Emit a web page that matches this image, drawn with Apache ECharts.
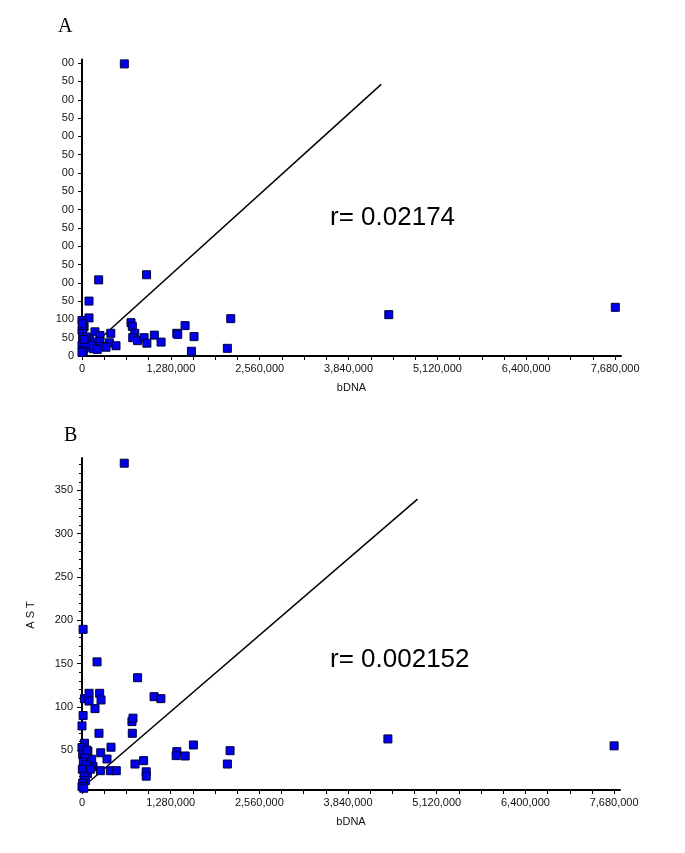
<!DOCTYPE html>
<html>
<head>
<meta charset="utf-8">
<script src="https://cdn.jsdelivr.net/npm/echarts@6/dist/echarts.min.js"></script>
<style>
html,body{margin:0;padding:0;background:#fff;}
#chart{width:685px;height:853px;}
</style>
</head>
<body>
<div id="chart"></div>
<script>
// ---------- data ----------
const xTickLabels = [0, 1280000, 2560000, 3840000, 5120000, 6400000, 7680000];
const yTickLabelsA = [0, 50, 100, 150, 200, 250, 300, 350, 400, 450, 500, 550, 600, 650, 700, 750, 800];
const yTickLabelsB = [50, 100, 150, 200, 250, 300, 350];

// Panel A (y-axis title clipped in the original)
const bdnaA = [610000, 240000, 930000, 101000, 101000, 0, 30000, 706000, 725000, 760000,
  731000, 800000, 894000, 935000, 1042000, 1139000, 1365000, 1379000, 1485000, 1614000,
  1576000, 2094000, 2143000, 4420000, 7683000, 187000, 259000, 415000, 105000, 10000,
  163000, 259000, 394000, 490000, 0, 20000, 85000, 163000, 307000, 346000,
  0, 0, 10000, 5000, 60000, 130000, 220000, 50000, 30000];
const valA = [798, 208, 222, 150, 104, 97, 80, 91, 81, 62,
  50, 42, 50, 35, 57, 38, 62, 59, 83, 53,
  13, 21, 102, 113, 133, 66, 56, 62, 47, 38,
  38, 40, 36, 28, 29, 15, 24, 20, 26, 24,
  10, 70, 61, 88, 52, 30, 18, 35, 45];

// Panel B: AST
const bdnaB = [610000, 16000, 217000, 802000, 35000, 102000, 102000, 255000, 275000, 188000,
  1040000, 1139000, 16000, 0, 245000, 721000, 736000, 726000, 35000, 0,
  419000, 85000, 270000, 361000, 889000, 765000, 927000, 927000, 140000, 159000,
  265000, 409000, 495000, 80000, 1369000, 1359000, 1489000, 1608000, 2137000, 2098000,
  4415000, 7680000, 10000, 40000, 20000, 60000, 5000, 30000, 50000, 10000,
  0, 25000, 120000, 70000];
const astB = [381.5, 189.6, 152, 133.7, 109.5, 115.7, 106.8, 115.7, 108, 98,
  111.8, 109.5, 90, 78, 69.5, 83, 87, 69.5, 58, 53,
  53.4, 49, 47, 39.8, 37.9, 34, 25, 20, 39.5, 31,
  26.3, 26.3, 26.3, 23, 48.3, 43.7, 43.3, 56, 49.4, 34,
  63, 55, 45, 41, 36, 33, 28, 20, 15, 12,
  8, 6, 28, 50];

// regression line end points
const lineA_x = [259000, 4310000];
const lineA_y = [47, 742];
const lineB_x = [49000, 4843000];
const lineB_y = [9.8, 340];

const rTextA = 'r= 0.02174';
const rTextB = 'r= 0.002152';

// ---------- font detection ----------
function hasFont(name) {
  const c = document.createElement('canvas').getContext('2d');
  c.font = '40px monospace';
  const w0 = c.measureText('bDNA 0,123,456 r=').width;
  c.font = "40px '" + name + "', monospace";
  const w1 = c.measureText('bDNA 0,123,456 r=').width;
  return Math.abs(w0 - w1) > 0.5;
}
const narrow = hasFont('Liberation Sans Narrow');
const SANS = narrow ? "'Liberation Sans Narrow'" : "'Liberation Sans', Arial";
const labelSize = narrow ? 13 : 11;
const bigSize = narrow ? 30 : 26;

const zip = (a, b) => a.map((v, i) => [v, b[i]]);
const fmt = v => Math.round(v).toLocaleString('en-US');

const minorX = [];
for (let v = 0; v <= 7680000; v += 320000) minorX.push(v);
const minorB = [];
for (let v = 10; v <= 380; v += 10) if (v % 50 !== 0) minorB.push(v);

const axisLineStyle = { show: true, lineStyle: { color: '#000', width: 2 } };
const markerStyle = { color: '#0000ee', borderColor: '#00003c', borderWidth: 1, opacity: 1 };

function xAxisDef(gridIndex) {
  return {
    type: 'value', gridIndex, min: 0, max: 7765000,
    name: 'bDNA', nameLocation: 'middle', nameGap: 26,
    nameTextStyle: { fontFamily: SANS, fontSize: labelSize, color: '#111' },
    axisLine: axisLineStyle,
    axisTick: { show: true, length: 4, lineStyle: { color: '#000' }, customValues: minorX },
    axisLabel: { fontFamily: SANS, fontSize: labelSize, color: '#111', margin: 7,
      customValues: xTickLabels, formatter: fmt },
    splitLine: { show: false }
  };
}

const option = {
  animation: false,
  backgroundColor: '#fff',
  grid: [
    { left: 82, right: 64, top: 59.5, bottom: 497 },
    { left: 82, right: 65, top: 458, bottom: 63 }
  ],
  xAxis: [xAxisDef(0), xAxisDef(1)],
  yAxis: [
    { type: 'value', gridIndex: 0, min: 0, max: 810,
      axisLine: axisLineStyle,
      axisTick: { show: true, length: 4, lineStyle: { color: '#000' }, customValues: yTickLabelsA },
      axisLabel: { fontFamily: SANS, fontSize: labelSize, color: '#111', margin: 8,
        customValues: yTickLabelsA },
      splitLine: { show: false } },
    { type: 'value', gridIndex: 1, min: 4, max: 387.5,
      axisLine: axisLineStyle,
      axisTick: { show: true, length: 5, lineStyle: { color: '#000' }, customValues: yTickLabelsB },
      axisLabel: { fontFamily: SANS, fontSize: labelSize, color: '#111', margin: 9,
        customValues: yTickLabelsB },
      splitLine: { show: false } },
    { type: 'value', gridIndex: 1, min: 4, max: 387.5, position: 'left',
      axisLine: { show: false },
      axisTick: { show: true, length: 3, lineStyle: { color: '#000' }, customValues: minorB },
      axisLabel: { show: false },
      splitLine: { show: false } }
  ],
  series: [
    { type: 'line', xAxisIndex: 0, yAxisIndex: 0, data: zip(lineA_x, lineA_y),
      symbol: 'none', lineStyle: { color: '#000', width: 1.5 }, z: 1 },
    { type: 'scatter', xAxisIndex: 0, yAxisIndex: 0, data: zip(bdnaA, valA),
      symbol: 'rect', symbolSize: 8, itemStyle: markerStyle, z: 3 },
    { type: 'line', xAxisIndex: 1, yAxisIndex: 1, data: zip(lineB_x, lineB_y),
      symbol: 'none', lineStyle: { color: '#000', width: 1.5 }, z: 1 },
    { type: 'scatter', xAxisIndex: 1, yAxisIndex: 1, data: zip(bdnaB, astB),
      symbol: 'rect', symbolSize: 8, itemStyle: markerStyle, z: 3 }
  ],
  graphic: [
    // white strip hiding the clipped left part of panel A's tick labels
    { type: 'rect', left: 0, top: 50, shape: { width: 62, height: 258 },
      style: { fill: '#fff' }, z: 100 },
    { type: 'text', left: 58, top: 17, z: 101,
      style: { text: 'A', font: "20px 'Liberation Serif', 'Times New Roman', serif", fill: '#000' } },
    { type: 'text', left: 64, top: 426, z: 101,
      style: { text: 'B', font: "20px 'Liberation Serif', 'Times New Roman', serif", fill: '#000' } },
    { type: 'text', x: 31, y: 615, rotation: Math.PI / 2, z: 101,
      style: { text: 'A S T', font: labelSize + 'px ' + SANS, fill: '#111',
        align: 'center', verticalAlign: 'middle' } },
    { type: 'text', x: 330, y: 218, z: 101,
      style: { text: rTextA, font: bigSize + 'px ' + SANS, fill: '#000', verticalAlign: 'middle' } },
    { type: 'text', x: 330, y: 660, z: 101,
      style: { text: rTextB, font: bigSize + 'px ' + SANS, fill: '#000', verticalAlign: 'middle' } }
  ]
};

const chart = echarts.init(document.getElementById('chart'), null, { renderer: 'canvas' });
chart.setOption(option);
</script>
</body>
</html>
